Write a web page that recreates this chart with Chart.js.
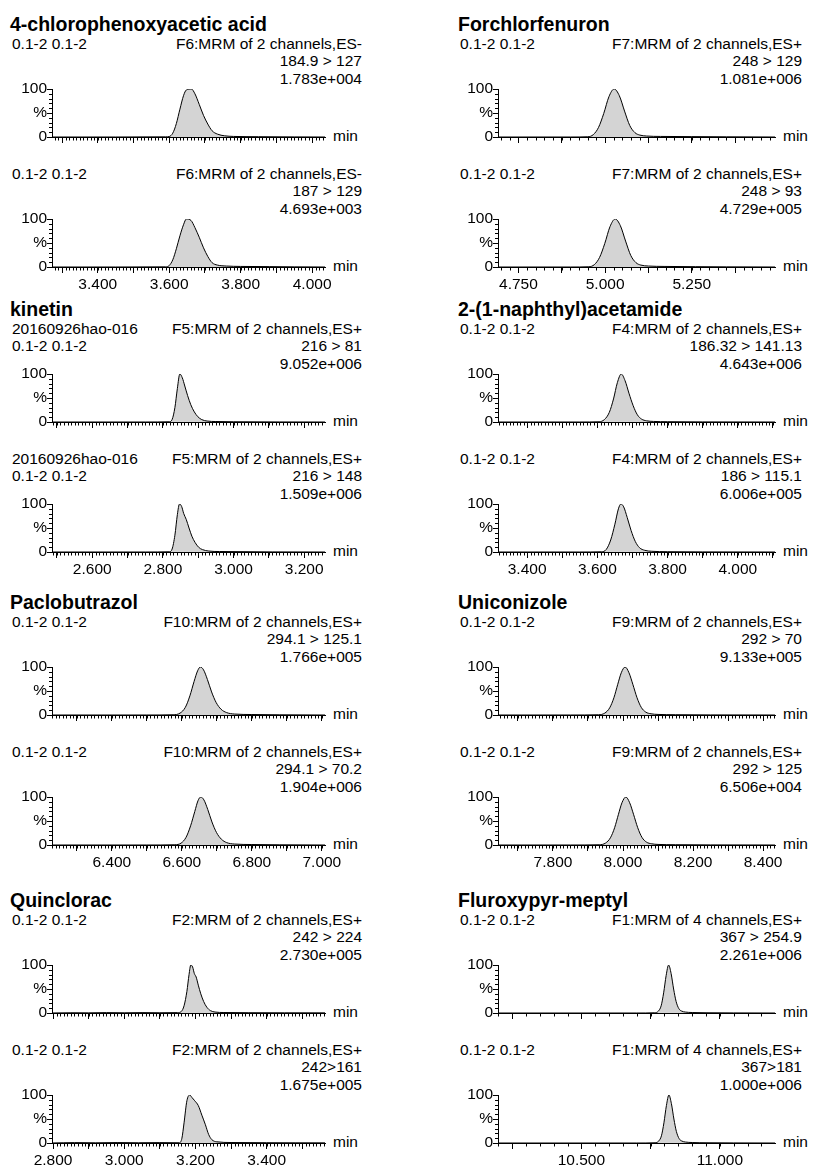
<!DOCTYPE html>
<html><head><meta charset="utf-8">
<script src="https://cdn.jsdelivr.net/npm/chart.js@4.4.1/dist/chart.umd.min.js"></script>
<style>
html,body{margin:0;padding:0;background:#fff;overflow:hidden}
#root{position:relative;width:815px;height:1165px;font-family:"Liberation Sans",Arial,sans-serif;color:#000;background:#fff}
.t{position:absolute;white-space:nowrap;font-size:15.5px;line-height:18px;height:18px}
.ttl{position:absolute;white-space:nowrap;font-size:19.5px;font-weight:bold;line-height:22px;height:22px}
canvas{position:absolute}
</style></head><body><div id="root"></div>
<script>
// ---------- DATA ----------
const names = ['4-chlorophenoxyacetic acid','Forchlorfenuron','kinetin','2-(1-naphthyl)acetamide','Paclobutrazol','Uniconizole','Quinclorac','Fluroxypyr-meptyl'];

// x-axis ranges (min)
const xMin = [3.272, 4.691, 2.486, 3.317, 6.229, 7.643, 2.797, 10.199];
const xMax = [4.036, 5.490, 3.259, 4.106, 7.009, 8.434, 3.564, 11.199];
const minorStep = [0.01, 0.025, 0.01, 0.01, 0.01, 0.01, 0.01, 0.05];

// major ticks and tick labels
const ticksCPA = [3.3,3.4,3.5,3.6,3.7,3.8,3.9,4.0];
const labelsCPA = ['3.400','3.600','3.800','4.000'];
const ticksFCF = [4.75,4.875,5.0,5.125,5.25,5.375];
const labelsFCF = ['4.750','5.000','5.250'];
const ticksKIN = [2.5,2.6,2.7,2.8,2.9,3.0,3.1,3.2];
const labelsKIN = ['2.600','2.800','3.000','3.200'];
const ticksNAD = [3.4,3.5,3.6,3.7,3.8,3.9,4.0,4.1];
const labelsNAD = ['3.400','3.600','3.800','4.000'];
const ticksPAC = [6.3,6.4,6.5,6.6,6.7,6.8,6.9,7.0];
const labelsPAC = ['6.400','6.600','6.800','7.000'];
const ticksUNI = [7.7,7.8,7.9,8.0,8.1,8.2,8.3,8.4];
const labelsUNI = ['7.800','8.000','8.200','8.400'];
const ticksQUI = [2.8,2.9,3.0,3.1,3.2,3.3,3.4,3.5];
const labelsQUI = ['2.800','3.000','3.200','3.400'];
const ticksFLU = [10.25,10.5,10.75,11.0];
const labelsFLU = ['10.500','11.000'];
const yTicks = [0, 50, 100];
const yTickLabels = ['0', '%', '100'];

// header texts
const leftTop = ['0.1-2 0.1-2'];
const leftKin = ['20160926hao-016', '0.1-2 0.1-2'];
const hdrCPA1 = ['F6:MRM of 2 channels,ES-','184.9 > 127','1.783e+004'];
const hdrCPA2 = ['F6:MRM of 2 channels,ES-','187 > 129','4.693e+003'];
const hdrFCF1 = ['F7:MRM of 2 channels,ES+','248 > 129','1.081e+006'];
const hdrFCF2 = ['F7:MRM of 2 channels,ES+','248 > 93','4.729e+005'];
const hdrKIN1 = ['F5:MRM of 2 channels,ES+','216 > 81','9.052e+006'];
const hdrKIN2 = ['F5:MRM of 2 channels,ES+','216 > 148','1.509e+006'];
const hdrNAD1 = ['F4:MRM of 2 channels,ES+','186.32 > 141.13','4.643e+006'];
const hdrNAD2 = ['F4:MRM of 2 channels,ES+','186 > 115.1','6.006e+005'];
const hdrPAC1 = ['F10:MRM of 2 channels,ES+','294.1 > 125.1','1.766e+005'];
const hdrPAC2 = ['F10:MRM of 2 channels,ES+','294.1 > 70.2','1.904e+006'];
const hdrUNI1 = ['F9:MRM of 2 channels,ES+','292 > 70','9.133e+005'];
const hdrUNI2 = ['F9:MRM of 2 channels,ES+','292 > 125','6.506e+004'];
const hdrQUI1 = ['F2:MRM of 2 channels,ES+','242 > 224','2.730e+005'];
const hdrQUI2 = ['F2:MRM of 2 channels,ES+','242>161','1.675e+005'];
const hdrFLU1 = ['F1:MRM of 4 channels,ES+','367 > 254.9','2.261e+006'];
const hdrFLU2 = ['F1:MRM of 4 channels,ES+','367>181','1.000e+006'];

// traces: retention time (min) and relative intensity (%)
const cpa1T = [3.272,3.45,3.590,3.600,3.610,3.620,3.630,3.640,3.648,3.662,3.672,3.684,3.696,3.708,3.720,3.735,3.755,3.78,3.85,3.95,4.036];
const cpa1Y = [0,0,0.3,1,8,28,58,86,98,100,90,68,45,27,13,6,2.5,1.2,0.6,0.2,0];
const cpa2T = [3.272,3.45,3.590,3.600,3.610,3.620,3.630,3.640,3.648,3.661,3.672,3.684,3.696,3.708,3.720,3.735,3.76,3.80,3.88,3.95,4.036];
const cpa2Y = [0,0,0.3,3,15,38,65,88,100,97,82,62,40,22,9,4,2,1.2,0.8,0.3,0];
const fcf1T = [4.691,4.90,4.950,4.966,4.981,4.996,5.011,5.026,5.041,5.056,5.071,5.086,5.100,5.120,5.160,5.250,5.350,5.490];
const fcf1Y = [0,0,0.5,5,20,49,84,100,86,54,24,9,4,2,1.2,0.8,0.4,0];
const fcf2T = [4.691,4.90,4.953,4.969,4.984,4.999,5.014,5.029,5.044,5.059,5.074,5.089,5.103,5.125,5.170,5.260,5.350,5.490];
const fcf2Y = [0,0,0.5,5,20,49,84,100,86,54,24,9,4,2,1.2,0.7,0.3,0];
const kin1T = [2.486,2.75,2.818,2.826,2.834,2.841,2.848,2.855,2.862,2.870,2.879,2.889,2.899,2.910,2.925,2.950,3.000,3.259];
const kin1Y = [0,0,0.5,5,30,70,100,92,75,55,36,21,11,5,2,1,0.5,0];
const kin2T = [2.486,2.75,2.818,2.826,2.834,2.841,2.847,2.853,2.859,2.866,2.874,2.882,2.891,2.901,2.912,2.930,2.960,3.259];
const kin2Y = [0,0,0.5,6,35,78,100,95,80,68,50,33,20,10,5,2,1,0];
const nad1T = [3.317,3.55,3.605,3.620,3.634,3.646,3.657,3.668,3.679,3.690,3.702,3.714,3.726,3.740,3.760,3.800,3.900,4.106];
const nad1Y = [0,0,0.5,5,20,48,82,100,86,60,34,15,6,2.5,1.2,0.6,0.2,0];
const nad2T = [3.317,3.55,3.612,3.625,3.638,3.650,3.660,3.667,3.675,3.685,3.696,3.708,3.720,3.735,3.755,3.800,3.900,4.106];
const nad2Y = [0,0,0.5,5,25,58,90,100,94,72,45,22,9,3.5,1.5,0.6,0.2,0];
const pac1T = [6.229,6.50,6.575,6.595,6.610,6.623,6.635,6.645,6.653,6.662,6.673,6.685,6.698,6.712,6.728,6.750,6.800,6.880,7.009];
const pac1Y = [0,0,0.5,4,16,40,70,92,100,94,74,48,26,12,5,2,1,0.4,0];
const pac2T = [6.229,6.50,6.580,6.598,6.612,6.625,6.637,6.646,6.654,6.663,6.674,6.686,6.699,6.713,6.728,6.750,6.800,6.880,7.009];
const pac2Y = [0,0,0.5,4,16,40,70,92,100,94,74,48,26,12,5,2,1,0.4,0];
const uni1T = [7.643,7.85,7.930,7.948,7.962,7.974,7.985,7.995,8.006,8.017,8.028,8.040,8.052,8.065,8.080,8.100,8.150,8.250,8.434];
const uni1Y = [0,0,0.5,4,15,36,64,88,100,88,64,36,16,6,2.5,1.2,0.6,0.2,0];
const uni2T = [7.643,7.85,7.932,7.950,7.964,7.976,7.987,7.997,8.008,8.019,8.030,8.042,8.054,8.067,8.082,8.100,8.150,8.250,8.434];
const uni2Y = [0,0,0.5,4,15,36,64,88,100,88,64,36,16,6,2.5,1.2,0.6,0.2,0];
const qui1T = [2.797,2.85,2.90,2.95,3.00,3.05,3.10,3.150,3.160,3.168,3.176,3.182,3.187,3.192,3.197,3.202,3.208,3.215,3.223,3.232,3.242,3.255,3.280,3.350,3.450,3.564];
const qui1Y = [0,0.5,0.3,0.8,0.4,0.8,0.5,0.8,3,15,45,80,100,96,82,75,58,40,24,12,5,2,1,0.6,0.4,0.3];
const qui2T = [2.797,2.86,2.92,2.98,3.04,3.10,3.155,3.162,3.168,3.176,3.184,3.190,3.198,3.208,3.218,3.228,3.237,3.246,3.260,3.300,3.400,3.480,3.564];
const qui2Y = [0,0.8,0.4,0.9,0.5,0.8,0.5,10,42,88,100,95,88,78,58,38,18,7,2.5,1,0.6,0.4,0.3];
const qui2BaseT = [3.157, 3.246];
const qui2BaseY = [0.5, 5];
const flu1T = [10.199,10.70,10.765,10.778,10.788,10.797,10.806,10.815,10.824,10.833,10.842,10.852,10.862,10.875,10.900,10.950,11.050,11.199];
const flu1Y = [0,0,0.5,4,15,42,78,100,82,50,24,9,4,2,1,0.5,0.2,0];
const flu2T = [10.199,10.70,10.766,10.779,10.789,10.798,10.807,10.816,10.825,10.834,10.843,10.853,10.863,10.876,10.900,10.950,11.050,11.199];
const flu2Y = [0,0,0.5,4,15,42,78,100,82,50,24,9,4,2,1,0.5,0.2,0];

// ---------- ASSEMBLY ----------
const tickSets = [ticksCPA,ticksFCF,ticksKIN,ticksNAD,ticksPAC,ticksUNI,ticksQUI,ticksFLU];
const labelSets = [labelsCPA,labelsFCF,labelsKIN,labelsNAD,labelsPAC,labelsUNI,labelsQUI,labelsFLU];
const headers = [[hdrCPA1,hdrCPA2],[hdrFCF1,hdrFCF2],[hdrKIN1,hdrKIN2],[hdrNAD1,hdrNAD2],[hdrPAC1,hdrPAC2],[hdrUNI1,hdrUNI2],[hdrQUI1,hdrQUI2],[hdrFLU1,hdrFLU2]];
const traces = [[[cpa1T,cpa1Y],[cpa2T,cpa2Y]],[[fcf1T,fcf1Y],[fcf2T,fcf2Y]],[[kin1T,kin1Y],[kin2T,kin2Y]],[[nad1T,nad1Y],[nad2T,nad2Y]],
  [[pac1T,pac1Y],[pac2T,pac2Y]],[[uni1T,uni1Y],[uni2T,uni2Y]],[[qui1T,qui1Y],[qui2T,qui2Y]],[[flu1T,flu1Y],[flu2T,flu2Y]]];

// layout
const rowBase = [137, 422, 715, 1013];
const panelGap = 130;
const plotH = 48;
const FONT = {family:'"Liberation Sans", Arial, sans-serif', size:15.5};
const root = document.getElementById('root');

function addText(txt, x, yc, align, cls){
  const d = document.createElement('div');
  d.className = cls; d.textContent = txt;
  const lh = cls === 'ttl' ? 22 : 18;
  d.style.top = (yc - lh/2) + 'px';
  if (align === 'right') d.style.right = (815 - x) + 'px'; else d.style.left = x + 'px';
  root.appendChild(d);
}

function minorPlugin(step, lo, hi){
  return { id:'minorTicks', afterDraw(chart){
    const ctx = chart.ctx, xs = chart.scales.x, ys = chart.scales.y, a = chart.chartArea;
    ctx.save(); ctx.strokeStyle = '#000'; ctx.lineWidth = 1; ctx.beginPath();
    const n0 = Math.ceil(lo/step - 1e-6), n1 = Math.floor(hi/step + 1e-6);
    for (let n = n0; n <= n1; n++){
      const px = Math.round(xs.getPixelForValue(n*step)) + 0.5;
      ctx.moveTo(px, a.bottom); ctx.lineTo(px, a.bottom + 3.5);
    }
    for (let v = 10; v < 100; v += 10){
      if (v === 50) continue;
      const py = Math.round(ys.getPixelForValue(v)) + 0.5;
      ctx.moveTo(a.left - 3, py); ctx.lineTo(a.left, py);
    }
    ctx.stroke(); ctx.restore();
  }};
}

for (let c = 0; c < 8; c++){
  const col = c % 2, row = Math.floor(c / 2);
  const titleX = col ? 458 : 10;
  const leftX = col ? 460 : 12;
  const rightX = col ? 802 : 362;
  const minX = col ? 783 : 333;
  addText(names[c], titleX, rowBase[row] - 113, 'left', 'ttl');
  for (let p = 0; p < 2; p++){
    const B = rowBase[row] + p * panelGap;
    const lefts = c === 2 ? leftKin : leftTop;
    const hdr = headers[c][p];
    const lineY = [B - 93, B - 76, B - 58];
    lefts.forEach((s, i) => addText(s, leftX, lineY[i], 'left', 't'));
    hdr.forEach((s, i) => addText(s, rightX, lineY[i], 'right', 't'));
    addText('min', minX, B - 1, 'left', 't');

    const cv = document.createElement('canvas');
    const cLeft = col ? 410 : 0, cW = col ? 405 : 370, rPad = col ? 40 : 45, yW = col ? 88 : 52;
    const padTop = 10, xH = 24, padBot = 2;
    const cH = padTop + plotH + xH + padBot;
    cv.width = cW; cv.height = cH;
    cv.style.left = cLeft + 'px'; cv.style.top = (B - plotH - padTop) + 'px';
    cv.style.width = cW + 'px'; cv.style.height = cH + 'px';
    root.appendChild(cv);

    const [T, Y] = traces[c][p];
    const datasets = [{
      data: T.map((t, i) => ({x: t, y: Y[i]})),
      borderColor: '#000', borderWidth: 1, backgroundColor: '#d4d4d4',
      fill: 'origin', pointRadius: 0, cubicInterpolationMode: 'monotone'
    }];
    if (c === 6 && p === 1){
      datasets.push({
        data: qui2BaseT.map((t, i) => ({x: t, y: qui2BaseY[i]})),
        borderColor: '#555', borderWidth: 1, fill: false, pointRadius: 0
      });
    }
    const majors = tickSets[c], labs = p === 1 ? labelSets[c] : [];
    new Chart(cv, {
      type: 'line',
      data: { datasets },
      options: {
        responsive: false, animation: false, devicePixelRatio: 1,
        layout: { padding: { top: padTop, bottom: padBot, left: 0, right: rPad } },
        plugins: { legend: { display: false }, tooltip: { enabled: false } },
        scales: {
          x: {
            type: 'linear', min: xMin[c], max: xMax[c], position: 'bottom',
            afterBuildTicks: s => { s.ticks = majors.map(v => ({value: v})); },
            afterFit: s => { s.height = xH; },
            grid: { display: true, drawOnChartArea: false, drawTicks: true, tickLength: 6, color: '#000', lineWidth: 1 },
            border: { display: true, color: '#000', width: 1 },
            ticks: { autoSkip: false, maxRotation: 0, minRotation: 0, padding: 2, color: '#000', font: FONT,
              callback: v => { const s = Number(v).toFixed(3); return labs.includes(s) ? s : ''; } }
          },
          y: {
            type: 'linear', min: 0, max: 100,
            afterBuildTicks: s => { s.ticks = yTicks.map(v => ({value: v})); },
            afterFit: s => { s.width = yW; },
            grid: { display: true, drawOnChartArea: false, drawTicks: true, tickLength: 5, color: '#000', lineWidth: 1 },
            border: { display: true, color: '#000', width: 1 },
            ticks: { padding: 0, color: '#000', font: FONT,
              callback: v => yTickLabels[yTicks.indexOf(v)] }
          }
        }
      },
      plugins: [minorPlugin(minorStep[c], xMin[c], xMax[c])]
    });
  }
}
</script></body></html>
